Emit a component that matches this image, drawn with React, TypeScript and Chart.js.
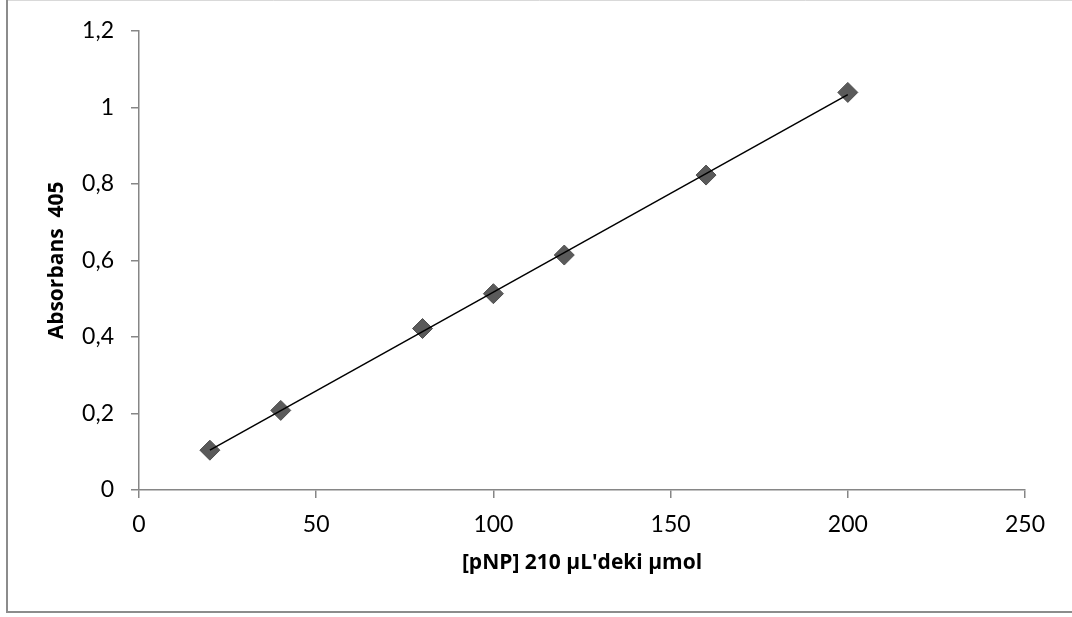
import React, { useEffect, useRef } from "react";
import { Chart, registerables } from "chart.js";

Chart.register(...registerables);

// Data
const concentrations: number[] = [20, 40, 80, 100, 120, 160, 200];
const absorbance: number[] = [0.104, 0.208, 0.422, 0.513, 0.614, 0.823, 1.039];

const xTickValues: number[] = [0, 50, 100, 150, 200, 250];
const yTickValues: number[] = [0, 0.2, 0.4, 0.6, 0.8, 1, 1.2];

const xTitle = "[pNP] 210 µL'deki µmol";
const yTitle = "Absorbans  405";

const W = 1072;
const H = 617;

// linear least squares trendline from the data
function linearFit(xs: number[], ys: number[]) {
  const n = xs.length;
  const mx = xs.reduce((a, b) => a + b, 0) / n;
  const my = ys.reduce((a, b) => a + b, 0) / n;
  let sxy = 0;
  let sxx = 0;
  for (let i = 0; i < n; i++) {
    sxy += (xs[i] - mx) * (ys[i] - my);
    sxx += (xs[i] - mx) * (xs[i] - mx);
  }
  const slope = sxy / sxx;
  const intercept = my - slope * mx;
  return { slope, intercept };
}

const framePlugin = {
  id: "frame",
  beforeDraw(chart: any) {
    const ctx = chart.ctx;
    ctx.save();
    ctx.fillStyle = "#ffffff";
    ctx.fillRect(0, 0, W, H);
    ctx.strokeStyle = "#d9d9d9";
    ctx.lineWidth = 1;
    ctx.beginPath();
    ctx.moveTo(7, 0.5);
    ctx.lineTo(W, 0.5);
    ctx.stroke();
    ctx.strokeStyle = "#8c8c8c";
    ctx.lineWidth = 2;
    ctx.beginPath();
    ctx.moveTo(7, 0);
    ctx.lineTo(7, 612);
    ctx.lineTo(W, 612);
    ctx.stroke();
    ctx.restore();
  },
};

export default function App() {
  const ref = useRef<HTMLCanvasElement | null>(null);

  useEffect(() => {
    if (!ref.current) return;
    const fit = linearFit(concentrations, absorbance);
    const xMin = Math.min(...concentrations);
    const xMax = Math.max(...concentrations);
    const trend = [
      { x: xMin, y: fit.intercept + fit.slope * xMin },
      { x: xMax, y: fit.intercept + fit.slope * xMax },
    ];
    const axisColor = "#868686";
    const tickFont = { family: "Lato", size: 23 };
    const titleFont = { family: "'Open Sans'", size: 21, weight: "bold" as const };

    const chart = new Chart(ref.current, {
      type: "scatter",
      data: {
        datasets: [
          {
            type: "line",
            label: "trend",
            data: trend,
            borderColor: "#000000",
            borderWidth: 1.5,
            pointRadius: 0,
            fill: false,
            order: 0,
          },
          {
            label: "Absorbans",
            data: concentrations.map((x, i) => ({ x, y: absorbance[i] })),
            pointStyle: "rectRot",
            pointRadius: 10,
            pointBackgroundColor: "#5a5a5a",
            pointBorderColor: "#4f4f4f",
            pointBorderWidth: 1,
            showLine: false,
            order: 1,
          },
        ],
      },
      options: {
        responsive: false,
        animation: false,
        layout: { padding: { top: 29, right: 47, bottom: 0, left: 0 } },
        plugins: {
          legend: { display: false },
          tooltip: { enabled: false },
        },
        scales: {
          x: {
            type: "linear",
            min: 0,
            max: 250,
            afterBuildTicks: (scale: any) => {
              scale.ticks = xTickValues.map((v) => ({ value: v }));
            },
            afterFit: (scale: any) => {
              scale.height = H - 490;
            },
            ticks: {
              color: "#000000",
              font: tickFont,
              padding: 13,
              maxRotation: 0,
              callback: (v: any) => String(v),
            },
            grid: {
              drawOnChartArea: false,
              drawTicks: true,
              tickLength: 8,
              color: axisColor,
              lineWidth: 1.5,
            },
            border: { color: axisColor, width: 1.5 },
            title: {
              display: true,
              text: xTitle,
              color: "#000000",
              font: titleFont,
              padding: { top: 0, bottom: 41 },
            },
          },
          y: {
            type: "linear",
            min: 0,
            max: 1.2,
            afterBuildTicks: (scale: any) => {
              scale.ticks = yTickValues.map((v) => ({ value: v }));
            },
            afterFit: (scale: any) => {
              scale.width = 139;
            },
            ticks: {
              color: "#000000",
              font: tickFont,
              padding: 17,
              callback: (v: any) => String(Math.round(v * 10) / 10).replace(".", ","),
            },
            grid: {
              drawOnChartArea: false,
              drawTicks: true,
              tickLength: 8,
              color: axisColor,
              lineWidth: 1.5,
            },
            border: { color: axisColor, width: 1.5 },
            title: {
              display: true,
              text: yTitle,
              color: "#000000",
              font: titleFont,
              padding: { top: 44, bottom: 0 },
            },
          },
        },
      },
      plugins: [framePlugin],
    } as any);

    return () => chart.destroy();
  }, []);

  return (
    <div style={{ position: "fixed", left: 0, top: 0, width: W, height: H, background: "#fff" }}>
      <canvas ref={ref} width={W} height={H} style={{ display: "block" }} />
    </div>
  );
}
